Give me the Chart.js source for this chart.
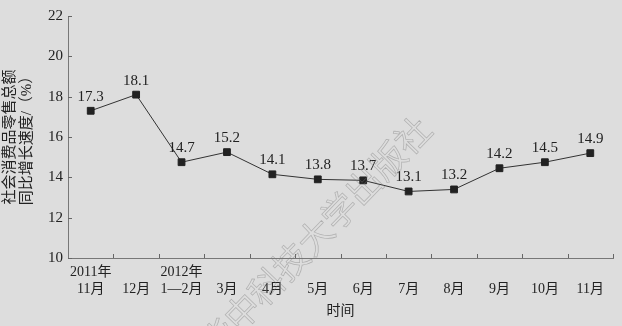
<!DOCTYPE html>
<html>
<head>
<meta charset="utf-8">
<script src="https://cdn.jsdelivr.net/npm/chart.js@4"></script>
<style>
  html, body { margin: 0; padding: 0; background: #dddddd; }
  #wrap { width: 622px; height: 326px; }
</style>
</head>
<body>
<div id="wrap"><canvas id="salesChart"></canvas></div>
<script>
// categories (two-line labels, first line is the year where it changes)
const months = [
  ["2011年", "11月"], ["", "12月"], ["2012年", "1—2月"], ["", "3月"],
  ["", "4月"], ["", "5月"], ["", "6月"], ["", "7月"],
  ["", "8月"], ["", "9月"], ["", "10月"], ["", "11月"]
];
// printed values next to each marker
const printed = ["17.3", "18.1", "14.7", "15.2", "14.1", "13.8", "13.7", "13.1", "13.2", "14.2", "14.5", "14.9"];
// marker heights
const growth = [17.3, 18.1, 14.75, 15.25, 14.15, 13.9, 13.85, 13.3, 13.4, 14.45, 14.75, 15.2];
const yTicks = [10, 12, 14, 16, 18, 20, 22];

const serif = '"Liberation Serif", "Noto Sans CJK SC", serif';
const ink = "#222";

const decor = {
  id: "decor",
  beforeDraw(chart) {
    const ctx = chart.ctx;
    ctx.save();
    ctx.fillStyle = "#dddddd";
    ctx.fillRect(0, 0, chart.width, chart.height);
    ctx.restore();
  },
  afterDatasetsDraw(chart) {
    const ctx = chart.ctx;
    const area = chart.chartArea;
    const y = chart.scales.y;
    ctx.save();
    // inner tick marks
    ctx.strokeStyle = "#666";
    ctx.lineWidth = 1;
    ctx.beginPath();
    const step = (area.right - area.left) / months.length;
    for (let i = 1; i <= months.length; i++) {
      const px = Math.round(area.left + i * step) + 0.5;
      ctx.moveTo(px, area.bottom);
      ctx.lineTo(px, area.bottom - 4);
    }
    yTicks.forEach((v) => {
      const py = Math.round(y.getPixelForValue(v)) + 0.5;
      ctx.moveTo(area.left, py);
      ctx.lineTo(area.left + 4, py);
    });
    ctx.stroke();

    // value labels
    const meta = chart.getDatasetMeta(0);
    ctx.fillStyle = ink;
    ctx.font = "15px " + serif;
    ctx.textAlign = "center";
    ctx.textBaseline = "middle";
    meta.data.forEach((pt, i) => {
      ctx.fillText(printed[i], pt.x, pt.y - 14);
    });
    ctx.restore();
  },
  afterDraw(chart) {
    // publisher watermark
    const ctx = chart.ctx;
    ctx.save();
    ctx.translate(315, 236);
    ctx.rotate(-46 * Math.PI / 180);
    ctx.font = '35px "Noto Sans CJK SC", sans-serif';
    ctx.textAlign = "center";
    ctx.textBaseline = "middle";
    ctx.strokeStyle = "rgba(120,120,120,0.45)";
    ctx.lineWidth = 0.7;
    ctx.strokeText("华中科技大学出版社", 0, 0);
    ctx.restore();
  }
};

new Chart(document.getElementById("salesChart"), {
  type: "line",
  data: {
    labels: months,
    datasets: [
      {
        data: growth,
        borderColor: "#333",
        borderWidth: 1,
        pointStyle: "rect",
        pointRadius: 4.8,
        pointBorderWidth: 1,
        pointBackgroundColor: ink,
        pointBorderColor: ink,
        tension: 0,
      },
    ],
  },
  options: {
    responsive: true,
    maintainAspectRatio: false,
    animation: false,
    layout: { padding: { top: 16, right: 9, bottom: 0, left: 0 } },
    plugins: { legend: { display: false }, tooltip: { enabled: false } },
    scales: {
      x: {
        offset: true,
        grid: { display: false, drawTicks: false },
        border: { display: true, color: "#777", width: 1 },
        ticks: {
          color: ink,
          font: { family: serif, size: 14 },
          padding: 6,
          maxRotation: 0,
          autoSkip: false,
        },
        title: {
          display: true,
          text: "时间",
          color: ink,
          font: { family: serif, size: 14 },
          padding: { top: 0, bottom: 6 },
        },
        afterFit: (s) => { s.height = 68; },
      },
      y: {
        min: 10,
        max: 22,
        grid: { display: false, drawTicks: false },
        border: { display: true, color: "#777", width: 1 },
        ticks: {
          stepSize: 2,
          color: ink,
          font: { family: serif, size: 15 },
          padding: 5,
        },
        title: {
          display: true,
          text: ["社会消费品零售总额", "同比增长速度/（%）"],
          color: ink,
          font: { family: serif, size: 15, lineHeight: 1.15 },
          padding: { top: 1, bottom: 0 },
        },
        afterFit: (s) => { s.width = 68; },
      },
    },
  },
  plugins: [decor],
});
</script>
</body>
</html>
